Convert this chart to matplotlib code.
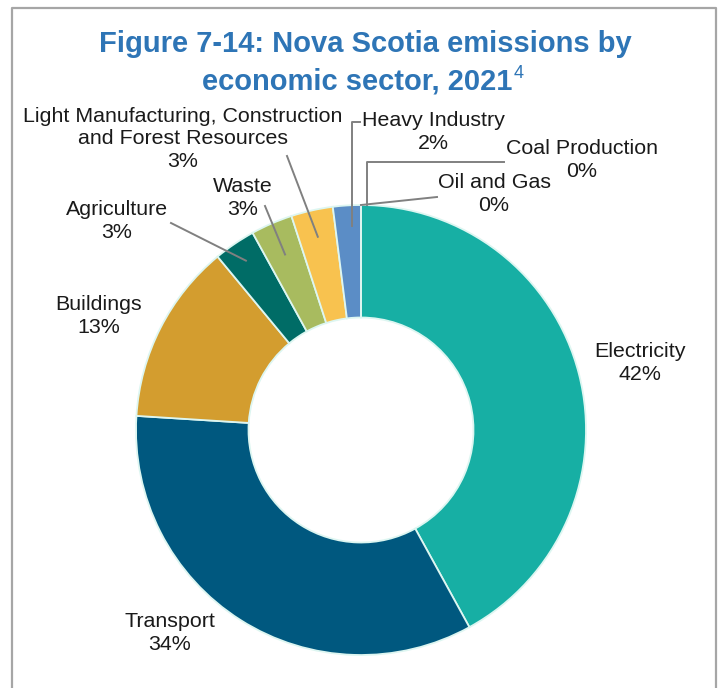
import numpy as np
import matplotlib.pyplot as plt
from matplotlib.lines import Line2D

# Nova Scotia GHG emissions by economic sector, 2021 (share of total, %)
sectors = ['Electricity', 'Transport', 'Buildings', 'Agriculture', 'Waste',
           'Light Manufacturing, Construction\nand Forest Resources',
           'Heavy Industry', 'Coal Production', 'Oil and Gas']
shares = [42, 34, 13, 3, 3, 3, 2, 0, 0]
colors = ['#17AFA4', '#00587F', '#D39D2F', '#006C66', '#A8BB5F',
          '#F8C24F', '#5B8DC6', '#7F7F7F', '#7F7F7F']

title_line1 = 'Figure 7-14: Nova Scotia emissions by'
title_line2 = 'economic sector, 2021'
title_note = '4'

W, H = 718, 688
cx, cy, R = 361, 430, 225

fig = plt.figure(figsize=(W / 100, H / 100), dpi=100)

# donut
ax = fig.add_axes([(cx - R) / W, 1 - (cy + R) / H, 2 * R / W, 2 * R / H])
wedges, _ = ax.pie(shares, colors=colors, startangle=90, counterclock=False,
                   radius=1.0,
                   wedgeprops=dict(width=0.5, edgecolor='#DDF6F1', linewidth=1.3))
ax.set_xlim(-1, 1)
ax.set_ylim(-1, 1)

# overlay in pixel coordinates (origin top-left) for labels, leaders, frame
ov = fig.add_axes([0, 0, 1, 1], zorder=3)
ov.set_xlim(0, W)
ov.set_ylim(H, 0)
ov.axis('off')
ov.patch.set_alpha(0)

frame_kw = dict(color='#A6A6A6', lw=1.6, solid_capstyle='butt')
ov.add_line(Line2D([12, 12, 716, 716], [700, 8, 8, 700], **frame_kw))


def wedge_point(w, r):
    a = np.deg2rad((w.theta1 + w.theta2) / 2)
    return cx + r * R * np.cos(a), cy - r * R * np.sin(a)


# label centres (pixels)
label_pos = [(640, 363), (170, 633), (99, 316), (117, 221), (243, 198),
             (183, 139), (433, 132), (582, 160), (494, 194)]

lab_font = dict(family=['Liberation Sans', 'DejaVu Sans'], fontsize=15.4,
                color='#1A1A1A', ha='center', va='center', linespacing=1.26)
for name, v, (x, y) in zip(sectors, shares, label_pos):
    ov.text(x, y, f'{name}\n{v}%', **lab_font)

lead = dict(color='#808080', lw=1.4)
w_idx = {n: i for i, n in enumerate(sectors)}

# straight leaders
for name, start, r in [('Agriculture', (171, 223), 0.91),
                       ('Waste', (265, 206), 0.85),
                       (sectors[5], (287, 156), 0.88),
                       ('Oil and Gas', (437, 197), 1.0)]:
    ex, ey = wedge_point(wedges[w_idx[name]], r)
    ov.add_line(Line2D([start[0], ex], [start[1], ey], **lead))

# elbow leaders
hx, hy = wedge_point(wedges[w_idx['Heavy Industry']], 0.91)
hx += 4
ov.add_line(Line2D([hx + 8, hx, hx], [122, 122, hy], **lead))
kx, ky = wedge_point(wedges[w_idx['Coal Production']], 1.0)
ov.add_line(Line2D([504, kx + 6, kx + 6], [162, 162, ky], **lead))

# title
title_font = dict(family=['Liberation Sans Narrow', 'Liberation Sans'],
                  fontweight='bold', fontsize=21, color='#2E75B6',
                  ha='center', va='center')
ov.text(365, 44, title_line1, **title_font)
t2 = ov.text(357, 82, title_line2, **title_font)

fig.canvas.draw()
bb = t2.get_window_extent().transformed(ov.transData.inverted())
ov.text(bb.x1 + 1, 74, title_note, family=['Liberation Sans Narrow', 'Liberation Sans'],
        fontsize=13, color='#2E75B6', ha='left', va='center')

fig.savefig('out.png', dpi=100, facecolor='white')
